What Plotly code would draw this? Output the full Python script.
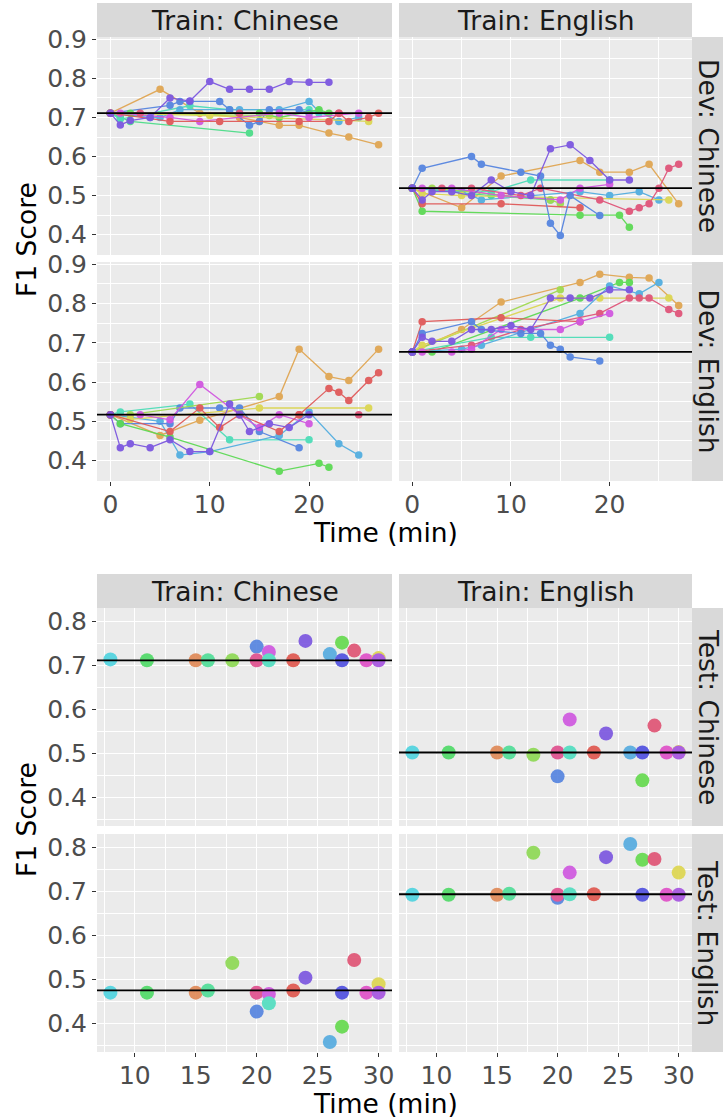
import plotly.graph_objects as go

W, H = 723, 1120

# ---------------- colours (participants) ----------------
COL = {
    "orange": "#E0A653", "purple": "#7C57E0", "blue": "#5685E0", "lightblue": "#53AEE0",
    "teal": "#4EDDB8", "seagreen": "#4EDD8A", "green": "#5DDA55", "lime": "#A0DA50",
    "yellow": "#DCD653", "red": "#E05A5A", "pinkred": "#E0557A", "magenta": "#D158E0",
}

# ---------------- top block: dev learning curves ----------------
# Train: Chinese / Dev: Chinese
dzh_tzh_base = 0.711
dzh_tzh_colors = ["orange", "seagreen", "teal", "lightblue", "blue", "green", "lime", "yellow",
                  "magenta", "red", "pinkred", "purple"]
dzh_tzh_times = [
    [0, 5, 9, 13, 15, 17, 19, 22, 24, 27],
    [0, 1, 2, 14],
    [0, 1, 8, 12, 20, 21],
    [0, 4, 5, 7, 13, 17, 20, 21, 23, 25],
    [0, 6, 7, 8, 11, 12, 14, 15, 16, 19, 20],
    [0, 2, 15, 17, 21, 22],
    [0, 16],
    [0, 10, 26],
    [0, 1, 6, 9, 17, 20, 25],
    [0, 6, 11, 19, 22, 23, 24, 26, 27],
    [0, 3, 13, 23],
    [0, 1, 2, 4, 6, 8, 10, 12, 14, 16, 18, 20, 22],
]
dzh_tzh_values = [
    [0.711, 0.772, 0.711, 0.70, 0.69, 0.68, 0.68, 0.66, 0.65, 0.63],
    [0.711, 0.70, 0.69, 0.66],
    [0.711, 0.696, 0.73, 0.72, 0.72, 0.711],
    [0.711, 0.70, 0.70, 0.72, 0.72, 0.72, 0.741, 0.715, 0.69, 0.70],
    [0.711, 0.731, 0.741, 0.741, 0.741, 0.72, 0.68, 0.69, 0.72, 0.72, 0.711],
    [0.711, 0.711, 0.711, 0.70, 0.72, 0.711],
    [0.711, 0.705],
    [0.711, 0.705, 0.69],
    [0.711, 0.711, 0.70, 0.69, 0.711, 0.70, 0.711],
    [0.711, 0.69, 0.69, 0.69, 0.69, 0.711, 0.69, 0.70, 0.711],
    [0.711, 0.711, 0.711, 0.711],
    [0.711, 0.681, 0.692, 0.70, 0.75, 0.742, 0.792, 0.772, 0.772, 0.772, 0.792, 0.79, 0.79],
]

# Train: English / Dev: Chinese
dzh_ten_base = 0.519
dzh_ten_colors = ["orange", "seagreen", "teal", "lightblue", "yellow", "green", "lime", "red",
                  "pinkred", "magenta", "blue", "purple"]
dzh_ten_times = [
    [0, 5, 9, 17, 19, 22, 24, 27],
    [0, 8, 14],
    [0, 8, 12, 20],
    [0, 5, 7, 17, 20, 23, 25],
    [0, 1, 5, 26],
    [0, 1, 17, 21, 22],
    [0, 2, 14, 15],
    [0, 1, 9, 17],
    [0, 3, 6, 11, 13, 19, 22, 23, 24, 25, 26, 27],
    [0, 1, 4, 9, 15, 17, 20],
    [0, 1, 6, 7, 11, 13, 14, 15, 16, 19],
    [0, 1, 2, 4, 6, 8, 10, 12, 14, 16, 18, 20, 22],
]
dzh_ten_values = [
    [0.519, 0.469, 0.55, 0.59, 0.56, 0.56, 0.58, 0.479],
    [0.519, 0.50, 0.489],
    [0.519, 0.51, 0.54, 0.54],
    [0.519, 0.51, 0.489, 0.51, 0.50, 0.51, 0.489],
    [0.519, 0.505, 0.50, 0.489],
    [0.519, 0.46, 0.45, 0.45, 0.419],
    [0.519, 0.519, 0.489, 0.48],
    [0.519, 0.479, 0.479, 0.469],
    [0.519, 0.519, 0.519, 0.50, 0.519, 0.489, 0.46, 0.469, 0.479, 0.519, 0.57, 0.58],
    [0.519, 0.519, 0.519, 0.50, 0.489, 0.519, 0.529],
    [0.519, 0.57, 0.60, 0.58, 0.56, 0.55, 0.429, 0.398, 0.50, 0.449],
    [0.519, 0.489, 0.51, 0.51, 0.50, 0.54, 0.51, 0.50, 0.62, 0.63, 0.59, 0.54, 0.54],
]

# Train: Chinese / Dev: English
den_tzh_base = 0.517
den_tzh_colors = ["orange", "teal", "lightblue", "blue", "green", "lime", "yellow", "magenta",
                  "pinkred", "red", "purple"]
den_tzh_times = [
    [0, 5, 9, 17, 19, 22, 24, 27],
    [0, 1, 8, 12, 20],
    [0, 5, 7, 10, 17, 20, 23, 25],
    [0, 1, 6, 7, 11, 13, 15, 19],
    [0, 1, 6, 17, 21, 22],
    [0, 2, 15],
    [0, 2, 15, 26],
    [0, 3, 6, 9, 13, 15, 17, 20],
    [0, 19, 25],
    [0, 6, 9, 11, 13, 17, 19, 22, 23, 24, 26, 27],
    [0, 1, 2, 4, 6, 8, 10, 12, 13, 14, 16, 18, 20],
]
den_tzh_values = [
    [0.517, 0.464, 0.503, 0.563, 0.684, 0.614, 0.604, 0.684],
    [0.517, 0.524, 0.544, 0.453, 0.453],
    [0.517, 0.50, 0.414, 0.423, 0.464, 0.524, 0.443, 0.414],
    [0.517, 0.494, 0.494, 0.534, 0.534, 0.534, 0.474, 0.433],
    [0.517, 0.494, 0.46, 0.373, 0.393, 0.383],
    [0.517, 0.517, 0.563],
    [0.517, 0.505, 0.534, 0.534],
    [0.517, 0.517, 0.504, 0.594, 0.517, 0.484, 0.517, 0.494],
    [0.517, 0.517, 0.517],
    [0.517, 0.474, 0.534, 0.484, 0.517, 0.474, 0.517, 0.584, 0.574, 0.553, 0.604, 0.624],
    [0.517, 0.433, 0.443, 0.433, 0.453, 0.423, 0.423, 0.544, 0.517, 0.474, 0.494, 0.484, 0.517],
]

# Train: English / Dev: English
den_ten_base = 0.677
den_ten_colors = ["orange", "lime", "green", "yellow", "teal", "lightblue", "red", "pinkred",
                  "magenta", "blue", "purple"]
den_ten_times = [
    [0, 5, 9, 17, 19, 22, 24, 27],
    [0, 15],
    [0, 2, 17, 21, 22],
    [0, 1, 15, 19, 26],
    [0, 8, 12, 20],
    [0, 5, 7, 17, 20, 23, 25],
    [0, 1, 9, 17],
    [0, 6, 11, 19, 22, 23, 24, 26, 27],
    [0, 1, 4, 6, 9, 15, 17, 20],
    [0, 1, 6, 7, 11, 13, 14, 15, 16, 19],
    [0, 1, 2, 4, 6, 8, 10, 12, 14, 16, 18, 20, 22],
]
den_ten_values = [
    [0.677, 0.734, 0.804, 0.854, 0.875, 0.867, 0.865, 0.795],
    [0.677, 0.835],
    [0.677, 0.677, 0.814, 0.854, 0.854],
    [0.677, 0.694, 0.814, 0.814, 0.814],
    [0.677, 0.714, 0.714, 0.714],
    [0.677, 0.684, 0.694, 0.775, 0.845, 0.825, 0.854],
    [0.677, 0.754, 0.764, 0.754],
    [0.677, 0.694, 0.734, 0.775, 0.814, 0.814, 0.814, 0.785, 0.775],
    [0.677, 0.677, 0.677, 0.684, 0.734, 0.734, 0.754, 0.775],
    [0.677, 0.724, 0.754, 0.734, 0.724, 0.724, 0.694, 0.684, 0.664, 0.654],
    [0.677, 0.714, 0.704, 0.704, 0.734, 0.734, 0.744, 0.734, 0.814, 0.814, 0.814, 0.835, 0.835],
]

# ---------------- bottom block: test scores ----------------
test_times = [8, 11, 15, 16, 18, 20, 20, 21, 21, 23, 24, 26, 27, 27, 28, 29, 30, 30]
test_colors = ["#50D4E0", "#50DA68", "#E08A58", "#50DD98", "#8ED955", "#5685E0", "#E0508E",
               "#CF58E0", "#52DDC0", "#E0584F", "#7C57E0", "#56ACE0", "#5050E0", "#66DA4F",
               "#E05575", "#E050C8", "#DDD650", "#A654E0"]
tzh_trzh_base = 0.711
tzh_trzh = [0.713, 0.711, 0.711, 0.711, 0.711, 0.742, 0.711, 0.730, 0.711, 0.711, 0.755,
            0.725, 0.711, 0.751, 0.733, 0.711, 0.716, 0.711]
tzh_tren_base = 0.502
tzh_tren = [0.502, 0.502, 0.502, 0.502, 0.497, 0.448, 0.502, 0.577, 0.502, 0.502, 0.545,
            0.502, 0.502, 0.439, 0.563, 0.502, 0.503, 0.502]
ten_trzh_base = 0.475
ten_trzh = [0.470, 0.470, 0.470, 0.475, 0.537, 0.427, 0.470, 0.467, 0.446, 0.475, 0.504,
            0.358, 0.470, 0.393, 0.544, 0.470, 0.489, 0.470]
ten_tren_base = 0.693
ten_tren = [0.692, 0.692, 0.692, 0.694, 0.787, 0.685, 0.692, 0.742, 0.693, 0.693, 0.777,
            0.807, 0.692, 0.771, 0.773, 0.692, 0.742, 0.692]

top_xticks = [0, 10, 20]
bot_xticks = [10, 15, 20, 25, 30]
top_yticks = [0.4, 0.5, 0.6, 0.7, 0.8, 0.9]
bot_yticks = [0.4, 0.5, 0.6, 0.7, 0.8]

# ---------------- layout geometry (pixels) ----------------
COLS = [(97, 392), (399, 692)]
ROWS = [(37, 255), (262, 481), (608, 826), (834, 1052)]
TOP_X = [-1.35, 28.35]
BOT_X = [6.9, 31.1]
TOP_Y = [0.348, 0.906]
BOT_Y = [0.3355, 0.8295]

FONT = "DejaVu Sans, Liberation Sans, sans-serif"
FS = 25
FS_STRIP = 26.5
FS_TITLE = 26.5

def xd(px0, px1):
    return [px0 / W, px1 / W]

def yd(py0, py1):
    return [1 - py1 / H, 1 - py0 / H]

fig = go.Figure()
layout = dict(width=W, height=H, autosize=False, margin=dict(l=0, r=0, t=0, b=0, pad=0),
              paper_bgcolor="white", plot_bgcolor="#EBEBEB", showlegend=False,
              font=dict(family=FONT, size=FS, color="#4D4D4D"))

panels = [
    (0, 0, "line", dzh_tzh_times, dzh_tzh_values, dzh_tzh_colors, dzh_tzh_base),
    (0, 1, "line", dzh_ten_times, dzh_ten_values, dzh_ten_colors, dzh_ten_base),
    (1, 0, "line", den_tzh_times, den_tzh_values, den_tzh_colors, den_tzh_base),
    (1, 1, "line", den_ten_times, den_ten_values, den_ten_colors, den_ten_base),
    (2, 0, "pt", test_times, tzh_trzh, test_colors, tzh_trzh_base),
    (2, 1, "pt", test_times, tzh_tren, test_colors, tzh_tren_base),
    (3, 0, "pt", test_times, ten_trzh, test_colors, ten_trzh_base),
    (3, 1, "pt", test_times, ten_tren, test_colors, ten_tren_base),
]

shapes = []
for i, (r, c, kind, tt, vv, cc, base) in enumerate(panels):
    n = i + 1
    xa = "x" if n == 1 else f"x{n}"
    ya = "y" if n == 1 else f"y{n}"
    top = r < 2
    show_x = r in (1, 3)
    show_y = c == 0
    xaxis = dict(domain=xd(*COLS[c]), range=TOP_X if top else BOT_X, anchor=ya,
                 tickmode="array", tickvals=top_xticks if top else bot_xticks,
                 showticklabels=show_x, ticks="outside" if show_x else "", ticklen=4,
                 tickcolor="#333333", tickwidth=1.1, showgrid=True, gridcolor="white",
                 gridwidth=1.4, zeroline=False, showline=False, fixedrange=True,
                 automargin=False, ticklabelstandoff=-3,
                 tickfont=dict(family=FONT, size=FS, color="#4D4D4D"),
                 minor=dict(tickmode="linear", tick0=0, dtick=5 if top else 2.5,
                            showgrid=True, gridcolor="white", gridwidth=0.7, ticks=""))
    yaxis = dict(domain=yd(*ROWS[r]), range=TOP_Y if top else BOT_Y, anchor=xa,
                 tickmode="array", tickvals=top_yticks if top else bot_yticks,
                 ticktext=[f"{v:.1f}" for v in (top_yticks if top else bot_yticks)],
                 showticklabels=show_y, ticks="outside" if show_y else "", ticklen=4,
                 tickcolor="#333333", tickwidth=1.1, showgrid=True, gridcolor="white",
                 gridwidth=1.4, zeroline=False, showline=False, fixedrange=True,
                 automargin=False,
                 tickfont=dict(family=FONT, size=FS, color="#4D4D4D"),
                 minor=dict(tickmode="linear", tick0=0, dtick=0.05,
                            showgrid=True, gridcolor="white", gridwidth=0.7, ticks=""))
    layout["xaxis" if n == 1 else f"xaxis{n}"] = xaxis
    layout["yaxis" if n == 1 else f"yaxis{n}"] = yaxis

    if kind == "line":
        for t, v, cname in zip(tt, vv, cc):
            fig.add_trace(go.Scatter(x=t, y=v, mode="lines+markers", xaxis=xa, yaxis=ya,
                                     line=dict(color=COL[cname], width=1.3),
                                     marker=dict(color=COL[cname], size=7.5),
                                     opacity=0.95, hoverinfo="skip"))
    else:
        fig.add_trace(go.Scatter(x=tt, y=vv, mode="markers", xaxis=xa, yaxis=ya,
                                 marker=dict(color=cc, size=14, line=dict(width=0)),
                                 opacity=0.92, hoverinfo="skip"))
    shapes.append(dict(type="line", xref=f"{xa} domain", yref=ya, x0=0, x1=1, y0=base, y1=base,
                       line=dict(color="black", width=1.8), layer="above"))

# strips
annotations = []
STRIP = "#D9D9D9"
def paper_rect(x0, y0, x1, y1):
    return dict(type="rect", xref="paper", yref="paper", x0=x0 / W, x1=x1 / W,
                y0=1 - y1 / H, y1=1 - y0 / H, fillcolor=STRIP, line=dict(width=0), layer="below")

col_labels = ["Train: Chinese", "Train: English"]
for (sy0, sy1) in [(3, 37), (574, 608)]:
    for c, lab in enumerate(col_labels):
        x0, x1 = COLS[c]
        shapes.append(paper_rect(x0, sy0, x1, sy1))
        annotations.append(dict(xref="paper", yref="paper", x=(x0 + x1) / 2 / W,
                                y=1 - (sy0 + sy1) / 2 / H, text=lab, showarrow=False,
                                xanchor="center", yanchor="middle",
                                font=dict(family=FONT, size=FS_STRIP, color="#1A1A1A")))

row_labels = ["Dev: Chinese", "Dev: English", "Test: Chinese", "Test: English"]
for r, lab in enumerate(row_labels):
    y0, y1 = ROWS[r]
    shapes.append(paper_rect(692, y0, 723, y1))
    annotations.append(dict(xref="paper", yref="paper", x=708 / W, y=1 - (y0 + y1) / 2 / H,
                            text=lab, showarrow=False, textangle=90,
                            xanchor="center", yanchor="middle",
                            font=dict(family=FONT, size=FS_STRIP, color="#1A1A1A")))

# axis titles
for ty in (532, 1103):
    annotations.append(dict(xref="paper", yref="paper", x=385 / W, y=1 - ty / H,
                            text="Time (min)", showarrow=False, xanchor="center", yanchor="middle",
                            font=dict(family=FONT, size=FS_TITLE, color="black")))
for ty in (240, 820):
    annotations.append(dict(xref="paper", yref="paper", x=26 / W, y=1 - ty / H,
                            text="F1 Score", showarrow=False, textangle=-90,
                            xanchor="center", yanchor="middle",
                            font=dict(family=FONT, size=FS_TITLE, color="black")))

layout["shapes"] = shapes
layout["annotations"] = annotations
fig.update_layout(**layout)
fig.write_html("out.html", config={"displayModeBar": False},
               post_script="document.body.style.margin='0';document.body.style.overflow='hidden';")
